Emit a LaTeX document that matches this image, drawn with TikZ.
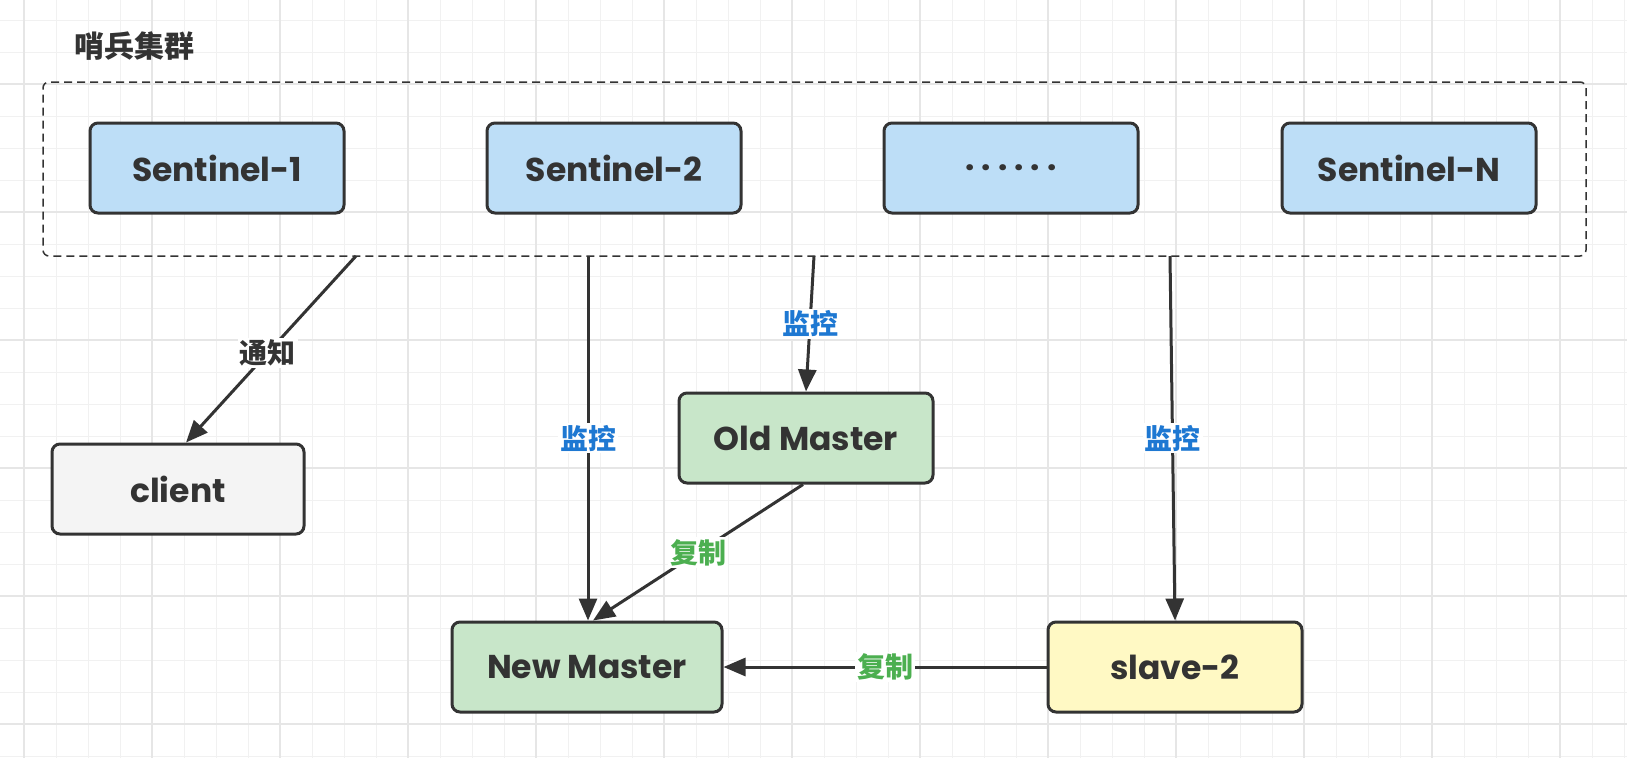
\documentclass[tikz,border=0pt]{standalone}
\usepackage{fontspec}
\setmainfont{Poppins}
\newfontfamily\cjk{Noto Sans CJK SC}
\usetikzlibrary{arrows.meta}
\definecolor{ink}{HTML}{333333}
\definecolor{sentblue}{RGB}{189,222,247}
\definecolor{clientgray}{HTML}{F4F4F4}
\definecolor{mastergreen}{RGB}{200,230,201}
\definecolor{slaveyellow}{RGB}{255,249,196}
\definecolor{lblblue}{RGB}{30,120,210}
\definecolor{lblgreen}{RGB}{76,175,80}
\definecolor{gridminor}{HTML}{F1F1F1}
\definecolor{gridmajor}{HTML}{E6E6E6}
\begin{document}
\begin{tikzpicture}[x=1pt,y=-1pt,
  box/.style={draw=ink, line width=3pt, rounded corners=8pt, minimum width=254pt, minimum height=90pt,
    font=\fontsize{33}{36}\selectfont\bfseries, text=ink, inner sep=0pt},
  arr/.style={draw=ink, line width=3pt, -{Triangle[length=22pt,width=18pt]}},
  lbl/.style={fill=white, font=\cjk\fontsize{28}{30}\selectfont\bfseries, inner sep=2pt},
  minorline/.style={draw=gridminor, line width=1pt},
  majorline/.style={draw=gridmajor, line width=1.2pt}]
\useasboundingbox (0,0) rectangle (1627,758);
\fill[white] (0,0) rectangle (1627,758);
% grid
\foreach \x in {24,56,...,1624} \draw[minorline] (\x,0) -- (\x,758);
\foreach \y in {20,52,...,756} \draw[minorline] (0,\y) -- (1627,\y);
\foreach \x in {24,152,...,1624} \draw[majorline] (\x,0) -- (\x,758);
\foreach \y in {84,212,...,756} \draw[majorline] (0,\y) -- (1627,\y);
% cluster
\node[draw=ink, line width=1.5pt, dash pattern=on 8pt off 5pt, rounded corners=6pt,
  minimum width=1543pt, minimum height=174pt, inner sep=0pt] (cluster) at (814.5,169) {};
\node[font=\cjk\fontsize{30}{32}\selectfont\bfseries, text=ink] (title) at (134,46) {哨兵集群};
% nodes
\node[box, fill=sentblue] (s1) at (217,168) {Sentinel-1};
\node[box, fill=sentblue] (s2) at (614,168) {Sentinel-2};
\node[box, fill=sentblue] (s3) at (1011,168) {.\hspace{7pt}.\hspace{7pt}.\hspace{7pt}.\hspace{7pt}.\hspace{7pt}.};
\node[box, fill=sentblue] (sN) at (1409,168) {Sentinel-N};
\node[box, fill=clientgray, minimum width=252pt] (client) at (178,489) {client};
\node[box, fill=mastergreen] (old) at (806,438) {Old Master};
\node[box, fill=mastergreen, minimum width=270pt] (new) at (587,667) {New Master};
\node[box, fill=slaveyellow] (slave) at (1175,667) {slave-2};
% connector start points on the cluster border
\coordinate (c1) at (356,256);
\coordinate (c2) at (588,256);
\coordinate (c3) at (814,256);
\coordinate (c4) at (1170,256);
% connectors
\draw[arr] (c1) -- node[lbl, text=ink, pos=0.52] {通知} ([xshift=8pt]client.north);
\draw[arr] (c2) -- node[lbl, text=lblblue, pos=0.5] {监控} ([xshift=1pt]new.north);
\draw[arr] (c3) -- node[lbl, text=lblblue, pos=0.5] {监控} (old.north);
\draw[arr] (c4) -- node[lbl, text=lblblue, pos=0.5] {监控} (slave.north);
\draw[arr] ([xshift=-3pt]old.south) -- node[lbl, text=lblgreen, pos=0.5] {复制} ([xshift=6pt]new.north);
\draw[arr] (slave.west) -- node[lbl, text=lblgreen, pos=0.5] {复制} (new.east);
\end{tikzpicture}
\end{document}
